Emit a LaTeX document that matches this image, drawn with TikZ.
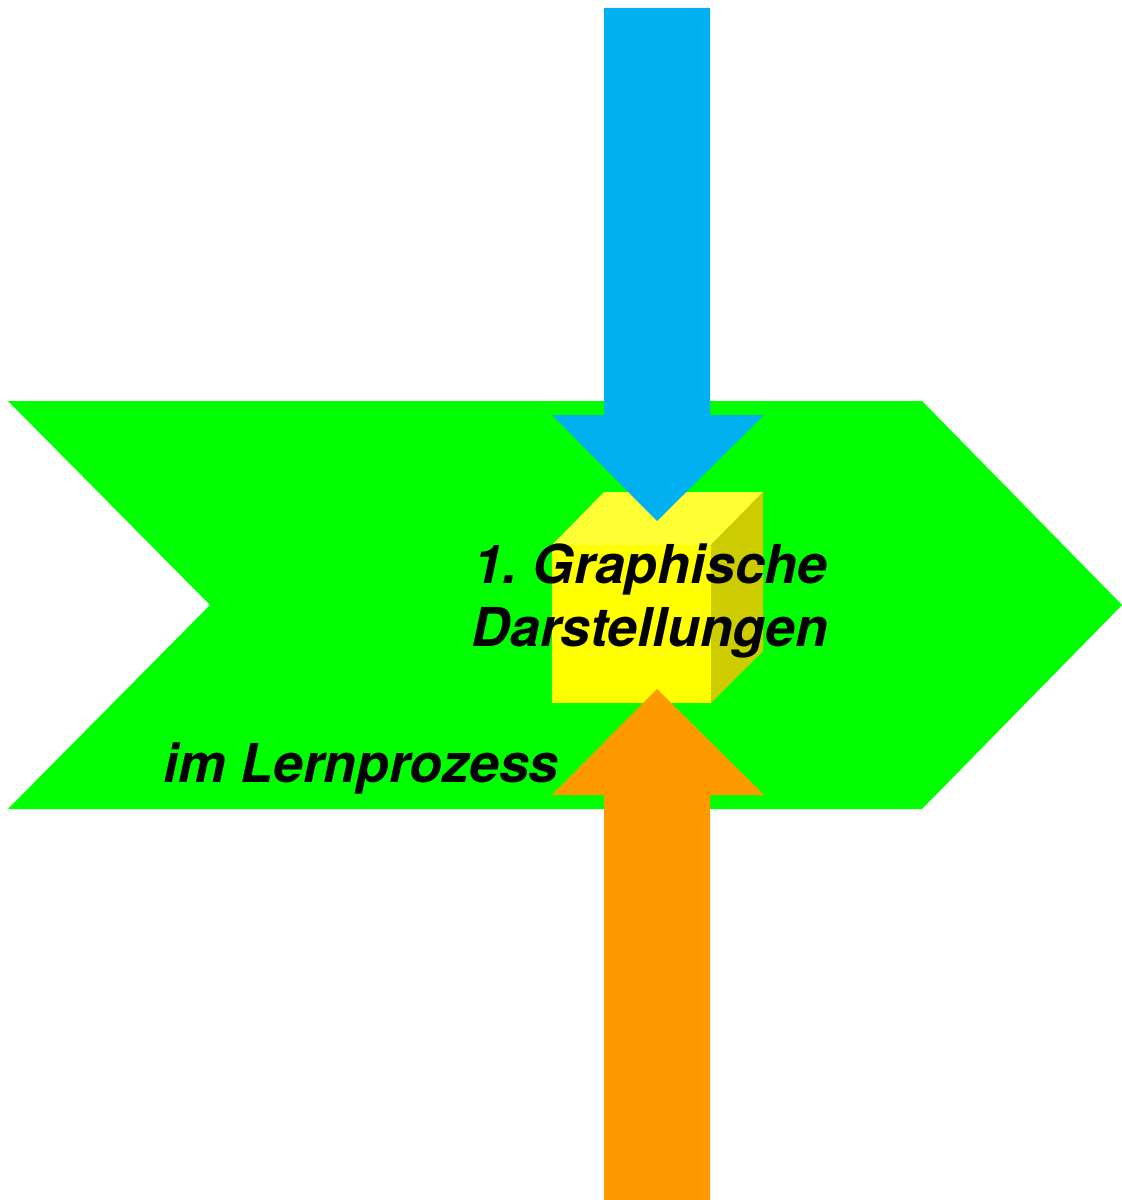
\documentclass[tikz,border=0pt]{standalone}
\usepackage{fontspec}
\setmainfont{TeX Gyre Heros}
\usepackage{tikz}
\usetikzlibrary{positioning,calc}

\definecolor{chevgreen}{HTML}{00FF00}
\definecolor{inblue}{HTML}{00B0F0}
\definecolor{inorange}{HTML}{FF9900}
\definecolor{cubefront}{HTML}{FFFF00}
\definecolor{cubetop}{HTML}{FFFF33}
\definecolor{cubeside}{HTML}{CCCC00}

\begin{document}
\begin{tikzpicture}[x=0.02cm, y=-0.02cm, every node/.style={font=\fontsize{30.5}{36}\selectfont\bfseries\itshape, inner sep=0pt}]
    \useasboundingbox (0,0) rectangle (1122,1200);
    % chevron
    \fill[chevgreen] (8,401) -- (922,401) -- (1122,605) -- (922,809) -- (8,809) -- (210,605) -- cycle;
    % cube
    \fill[cubefront] (552,545) rectangle (711,703);
    \fill[cubetop] (552,545) -- (604,492) -- (763,492) -- (711,545) -- cycle;
    \fill[cubeside] (711,545) -- (763,492) -- (763,651) -- (711,703) -- cycle;
    % arrows
    \fill[inblue] (604,8) -- (710,8) -- (710,415) -- (764,415) -- (657,521) -- (552,415) -- (604,415) -- cycle;
    \fill[inorange] (604,1200) -- (710,1200) -- (710,795) -- (764,795) -- (657,689) -- (552,795) -- (604,795) -- cycle;
    % labels
    \node[anchor=base] (graph) at (650,583) {1.\ Graphische};
    \node[anchor=base] (darst) at (650,646) {Darstellungen};
    \node[anchor=base west] (lern) at (163,782) {im Lernprozess};
  \end{tikzpicture}
\end{document}
